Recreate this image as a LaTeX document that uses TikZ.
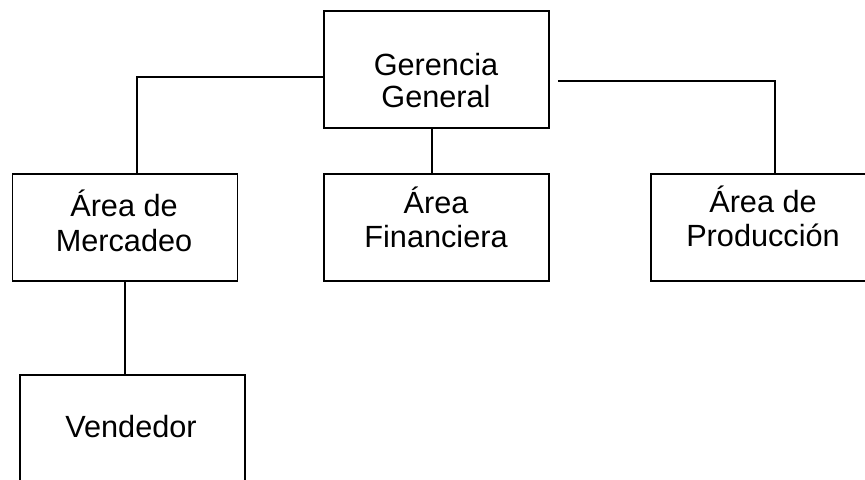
\documentclass[tikz,border=0pt]{standalone}
\usepackage{fontspec}
\setmainfont{Liberation Sans}
\usetikzlibrary{positioning,calc}

\tikzset{
  box/.style={draw, line width=1.4pt, rectangle, minimum width=168.75pt, minimum height=80.25pt, inner sep=0pt},
  txt/.style={align=center, inner sep=0pt, font=\fontsize{23}{26}\selectfont},
  link/.style={line width=1.2pt}
}

\begin{document}
\begin{tikzpicture}[x=0.75pt, y=-0.75pt]
    \useasboundingbox (0,0) rectangle (865,479);
    \clip (0,0) rectangle (865,479);

    % boxes
    \node[box, minimum height=87.75pt] (gg) at (436.5, 69.5) {};
    \node[box] (mer) at (125, 227.5) {};
    \node[box] (fin) at (436.5, 227.5) {};
    \node[box, minimum width=166.5pt] (pro) at (762, 227.5) {};
    \node[box] (ven) at (132.5, 428.5) {};

    % texts
    \node[txt, font=\fontsize{23}{24}\selectfont] (ggt) at (436, 80.5) {Gerencia\\General};
    \node[txt] (mert) at (124, 221) {Área de\\Mercadeo};
    \node[txt] (fint) at (436, 217.5) {Área\\Financiera};
    \node[txt] (prot) at (763, 216.5) {Área de\\Producción};
    \node[txt] (vent) at (131, 427) {Vendedor};

    % connectors
    \draw[link] ([yshift=-5.6pt]gg.west) -| ([xshift=9pt]mer.north);
    \draw[link] ([xshift=6pt, yshift=-8.6pt]gg.east) -| ([xshift=9.75pt]pro.north);
    \draw[link] ([xshift=-3.4pt]gg.south) -- ([xshift=-3.4pt]fin.north);
    \draw[link] (mer.south) -- (mer.south |- ven.north);

\end{tikzpicture}
\end{document}
